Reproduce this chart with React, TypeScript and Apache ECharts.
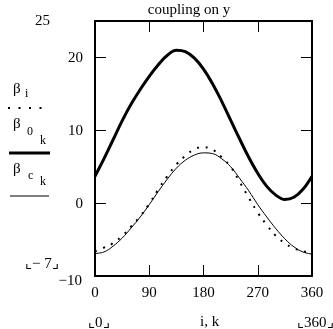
import React, { useEffect, useRef } from "react";
import * as echarts from "echarts";

// x positions (degrees) for the sampled curves
const xDeg = [0, 15, 30, 45, 60, 75, 90, 105, 120, 135, 150, 165, 180, 195, 210, 225, 240, 255, 270, 285, 300, 315, 330, 345, 360];
// beta_i (dotted)
const betaI = [-6.6, -6.1, -5.5, -4.5, -3.2, -1.8, -0.1, 1.9, 3.7, 5.3, 6.5, 7.4, 7.7, 7.35, 6.3, 5.0, 2.9, 0.75, -1.3, -3.0, -4.5, -5.5, -6.2, -6.6, -6.7];
// beta_0k (thick)
const beta0 = [3.7, 6.1, 8.7, 11.3, 13.6, 15.6, 17.4, 19.0, 20.3, 21.0, 20.8, 19.9, 18.4, 16.4, 14.0, 11.4, 8.8, 6.3, 4.1, 2.3, 1.1, 0.5, 0.8, 1.9, 3.7];
// beta_ck (thin)
const betaC = [-6.9, -6.7, -5.9, -4.8, -3.4, -1.9, -0.2, 1.6, 3.3, 4.8, 5.9, 6.6, 6.9, 6.8, 6.1, 5.0, 3.4, 1.7, -0.2, -1.9, -3.5, -4.9, -6.0, -6.7, -7.0];

const xTicks = [0, 90, 180, 270, 360];
const yMin = -10;
const yMax = 25;

const FONT = "'Liberation Serif', 'DejaVu Serif', serif";

export default function App() {
  const ref = useRef<HTMLDivElement>(null);
  useEffect(() => {
    if (!ref.current) return;
    const chart = echarts.init(ref.current, undefined, { renderer: "svg" });
    const pair = (ys: number[]) => xDeg.map((x, i) => [x, ys[i]]);
    const axisCommon = {
      type: "value" as const,
      axisLine: { show: true, onZero: false, lineStyle: { color: "#000", width: 2 } },
      axisTick: { show: true, inside: true, length: 11, lineStyle: { color: "#000", width: 1 } },
      splitLine: { show: false },
    };
    const txt = (text: string, x: number, y: number, size: number, align = "left") => ({
      type: "text",
      x,
      y,
      style: { text, fontSize: size, fontFamily: FONT, fill: "#000", textAlign: align, textVerticalAlign: "middle" },
    });
    chart.setOption({
      animation: false,
      grid: { left: 95, right: 21, top: 21, bottom: 53 },
      xAxis: [
        {
          ...axisCommon,
          position: "bottom",
          min: xTicks[0],
          max: xTicks[xTicks.length - 1],
          interval: 90,
          axisLabel: { show: true, margin: 8, fontSize: 15, fontFamily: FONT, color: "#000" },
        },
        {
          ...axisCommon,
          position: "top",
          min: xTicks[0],
          max: xTicks[xTicks.length - 1],
          interval: 90,
          axisLabel: { show: false },
        },
      ],
      yAxis: [
        {
          ...axisCommon,
          position: "left",
          min: yMin,
          max: yMax,
          interval: 10,
          axisLabel: { show: true, margin: 12, fontSize: 15, fontFamily: FONT, color: "#000", showMinLabel: false, showMaxLabel: false },
        },
        {
          ...axisCommon,
          position: "right",
          min: yMin,
          max: yMax,
          interval: 10,
          axisLabel: { show: false },
        },
      ],
      series: [
        {
          type: "line",
          data: pair(betaC),
          smooth: 0.4,
          symbol: "none",
          lineStyle: { color: "#000", width: 1 },
        },
        {
          type: "line",
          data: pair(betaI),
          smooth: 0.4,
          symbol: "none",
          lineStyle: { color: "#000", width: 2, type: [2, 6.7] },
        },
        {
          type: "line",
          data: pair(beta0),
          smooth: 0.4,
          symbol: "none",
          lineStyle: { color: "#000", width: 3 },
        },
      ],
      graphic: [
        txt("coupling on y", 189, 9, 15, "center"),
        txt(String(yMax), 50, 20, 15, "right"),
        txt("\u2212" + String(-yMin), 82, 280, 15, "right"),
        txt("\u231E\u2212 7\u231F", 25, 263, 15),
        txt("\u231E0\u231F", 88, 322, 15),
        txt("i, k", 200, 321, 15),
        txt("\u231E360\u231F", 297, 322, 15),
        txt("\u03B2", 13, 88, 15),
        txt("i", 25, 93, 12),
        { type: "line", shape: { x1: 8, y1: 108, x2: 44, y2: 108 }, style: { stroke: "#000", lineWidth: 2, lineDash: [2, 8.5] } },
        txt("\u03B2", 13, 123, 15),
        txt("0", 27, 131, 12),
        txt("k", 40, 140, 12),
        { type: "line", shape: { x1: 9, y1: 153, x2: 50, y2: 153 }, style: { stroke: "#000", lineWidth: 3 } },
        txt("\u03B2", 13, 168, 15),
        txt("c", 28, 175, 12),
        txt("k", 40, 181, 12),
        { type: "line", shape: { x1: 10, y1: 196, x2: 49, y2: 196 }, style: { stroke: "#000", lineWidth: 1 } },
      ],
    });
    return () => chart.dispose();
  }, []);
  return <div ref={ref} style={{ position: "fixed", left: 0, top: 0, width: 333, height: 329 }} />;
}
